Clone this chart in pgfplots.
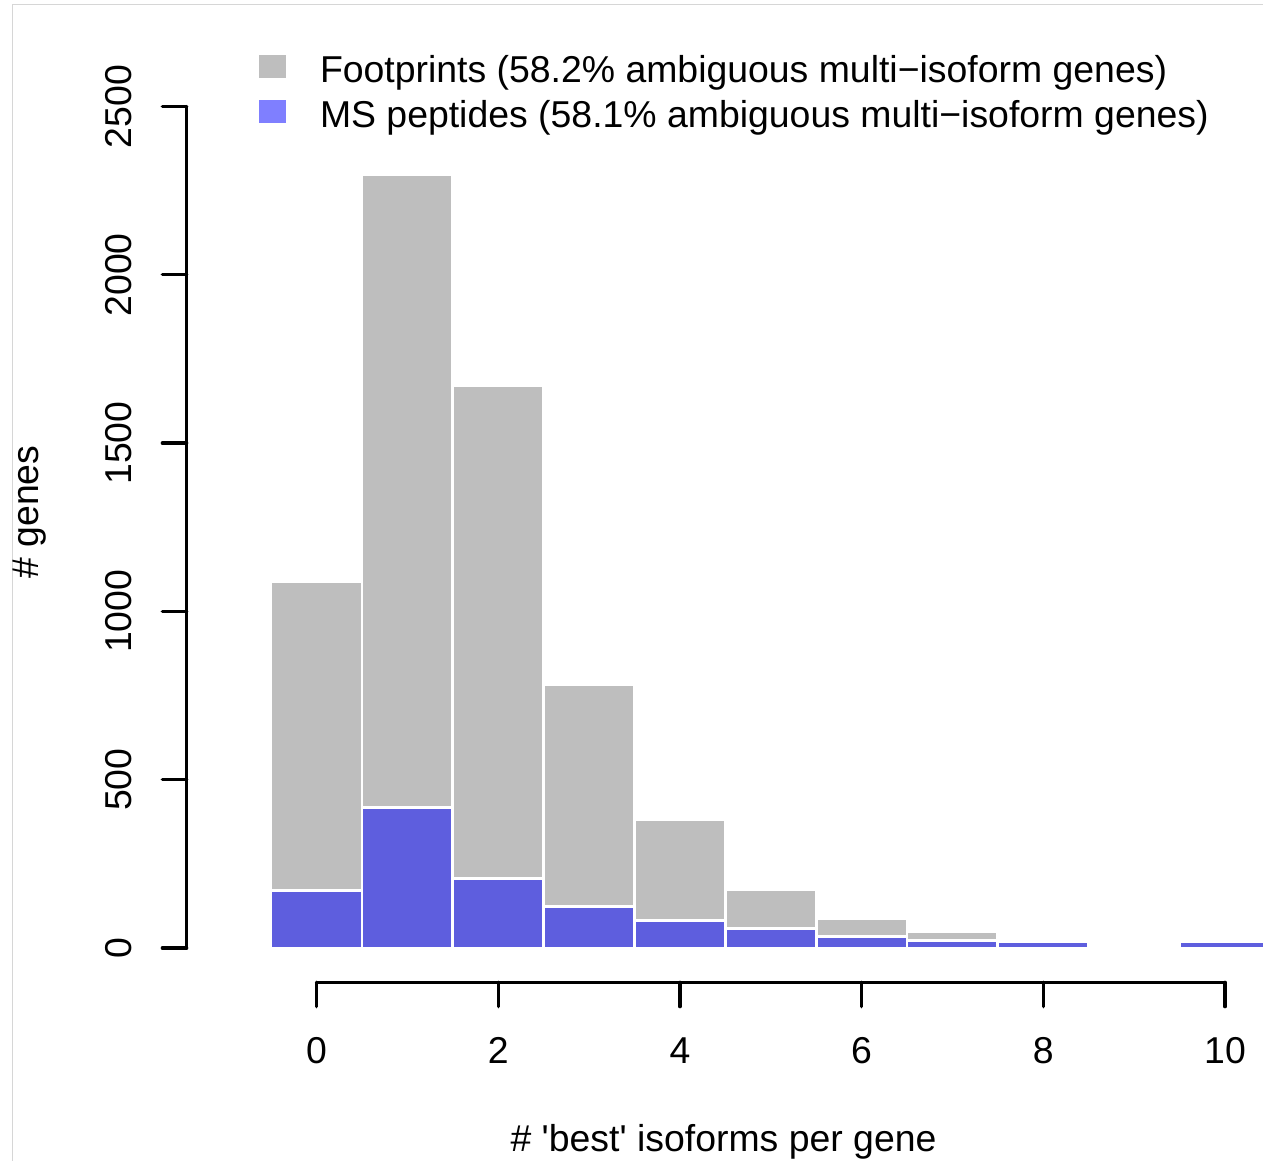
\documentclass[border=0pt]{standalone}
\usepackage{fontspec}
\setmainfont{Liberation Sans}
\usepackage{pgfplots}
\usepackage{pgfplotstable}
\pgfplotsset{compat=1.18}

\definecolor{histgray}{HTML}{BEBEBE}
\definecolor{framegray}{HTML}{D6D6D6}

% counts of genes per number of 'best' isoforms
\pgfplotstableread{
bin fp   ms
0   1088 171
1   2298 417
2   1672 206
3   782  124
4   382  82
5   173  58
6   87   35
7   48   23
8   18   18
10  18   18
}\hist

\newcommand\lbl{\fontsize{18.7}{22}\selectfont}

% R-style detached axes
\pgfplotsset{
  rstyle/.style={
    scale only axis, enlargelimits=false,
    axis line style={black, line width=1.6pt, line cap=round},
    major tick style={black, line width=1.6pt, line cap=round},
    major tick length=12.2pt, tick align=outside,
    tick label style={font=\lbl},
    /pgf/number format/assume math mode=true,
    /pgf/number format/1000 sep={},
    ticklabel shift=15.2pt,
  },
  legend image code/.code={\fill[#1,draw=none] (0pt,-4.05pt) rectangle (13.5pt,7.45pt);},
}

\begin{document}
\begin{tikzpicture}
\useasboundingbox (0,0) rectangle (631.5pt,580.5pt);
\draw[framegray, line width=0.75pt] (6.35pt,-20pt) -- (6.35pt,578.15pt) -- (660pt,578.15pt);

% y axis
\begin{axis}[rstyle,
  at={(93.35pt,106.5pt)}, anchor=south west,
  width=1pt, height=420.75pt,
  xmin=0, xmax=1, ymin=0, ymax=2500,
  axis y line*=left, hide x axis,
  ytick={0,500,...,2500}, scaled y ticks=false,
  yticklabel style={rotate=90, anchor=south, inner sep=0pt},
  ylabel={\# genes},
  ylabel style={font=\lbl, at={(axis description cs:-78.35,0.518)}, anchor=center, inner sep=0pt},
]
\end{axis}

% x axis
\begin{axis}[rstyle,
  at={(158.25pt,89.35pt)}, anchor=south west,
  width=454.25pt, height=1pt,
  xmin=0, xmax=10, ymin=0, ymax=1,
  axis x line*=bottom, hide y axis,
  xtick={0,2,...,10},
  xticklabel style={anchor=north, inner sep=0pt},
  xlabel={\# \textquotesingle best\textquotesingle\ isoforms per gene},
  xlabel style={font=\lbl, at={(axis description cs:0.448,-84.85)}, anchor=base, inner sep=0pt},
]
\end{axis}

% histograms
\begin{axis}[
  at={(158.25pt,106.5pt)}, anchor=south west,
  scale only axis, width=454.25pt, height=420.75pt,
  xmin=0, xmax=10, ymin=0, ymax=2500,
  hide axis, clip=false,
  legend style={at={(-0.0633,1.0608)}, anchor=north west, draw=none, fill=none,
    inner sep=0pt, outer sep=0pt, font=\lbl,
    nodes={inner sep=0pt},
    row sep={22.5pt,between origins}, column sep={30.5pt,between origins}},
  legend cell align=left,
]
\addplot[ybar, bar width=1, bar shift=0pt, fill=histgray, draw=white, line width=1.4pt]
  table[x=bin, y=fp] {\hist};
\addlegendentry{Footprints (58.2\% ambiguous multi−isoform genes)}
\addplot[ybar, bar width=1, bar shift=0pt, fill=blue, fill opacity=0.5, draw=white, line width=1.4pt]
  table[x=bin, y=ms] {\hist};
\addlegendentry{MS peptides (58.1\% ambiguous multi−isoform genes)}
\end{axis}
\end{tikzpicture}
\end{document}
